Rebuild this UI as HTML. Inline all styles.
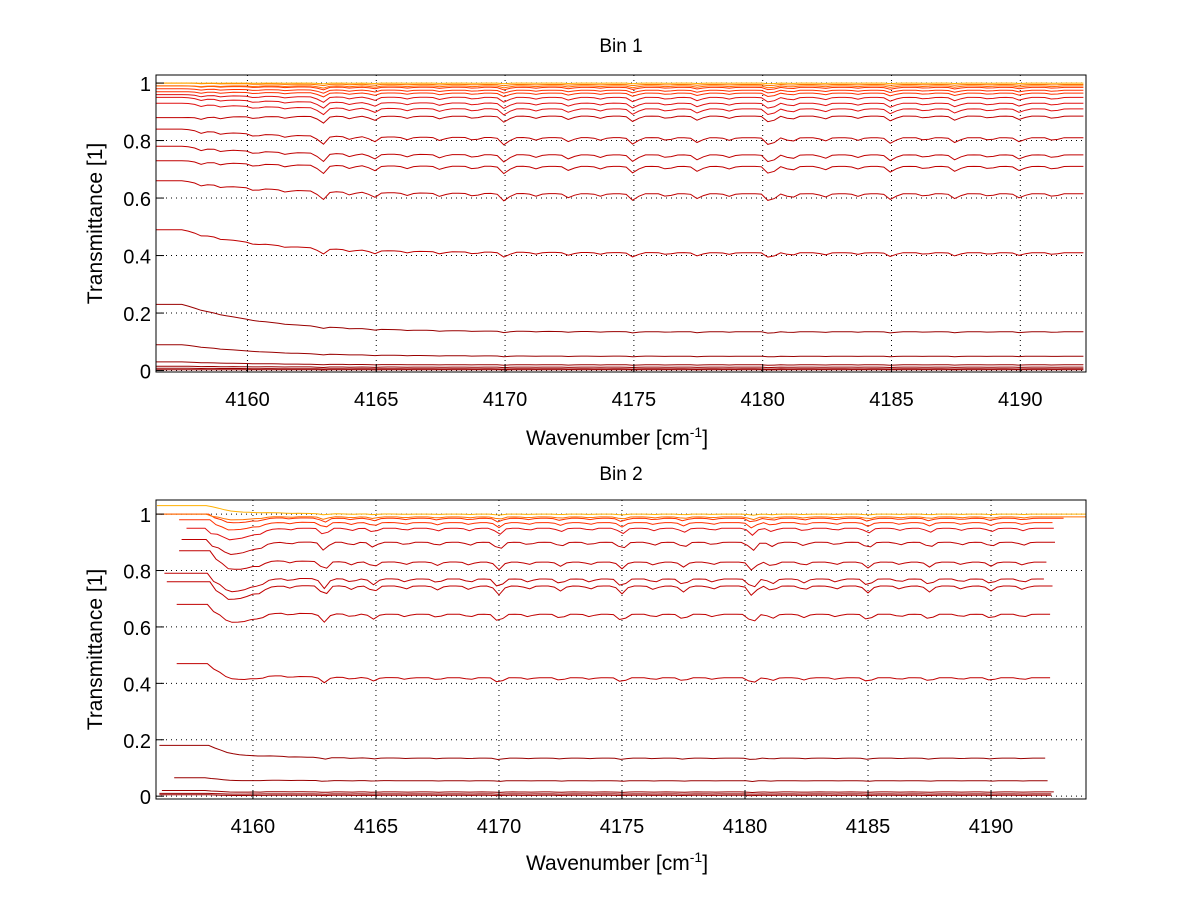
<!DOCTYPE html>
<html><head><meta charset="utf-8"><style>
body{margin:0;background:#fff;width:1200px;height:901px;overflow:hidden}
svg text{font-family:"Liberation Sans",sans-serif;fill:#000}
</style></head><body>
<svg id="c" width="1200" height="901" xmlns="http://www.w3.org/2000/svg"></svg>
<script>
// ---- data ----
const xTicks = [4160,4165,4170,4175,4180,4185,4190];
const yTicks = [0,0.2,0.4,0.6,0.8,1];
const yTickLabels = ["0","0.2","0.4","0.6","0.8","1"];
// absorption features (wavenumber, relative depth)
const dipCenters = [4158.2,4159.0,4160.3,4161.5,4162.9,4164.0,4164.9,4166.2,4167.5,4168.8,4170.0,4171.2,4172.5,4173.7,4175.0,4176.3,4177.5,4178.7,4180.3,4181.1,4182.4,4183.7,4185.0,4186.3,4187.5,4188.8,4190.0,4191.3];
const dipDepths  = [0.3,0.25,0.3,0.25,1.0,0.35,0.6,0.3,0.4,0.35,0.9,0.3,0.5,0.3,0.8,0.35,0.6,0.3,1.0,0.5,0.4,0.3,0.7,0.3,0.6,0.3,0.5,0.35];
// Bin 1 series: start level (left), end level (right)
const bin1Start = [1.0,1.0,0.99,0.99,0.98,0.97,0.96,0.95,0.93,0.88,0.84,0.78,0.73,0.66,0.49,0.23,0.09,0.03,0.015,0.008,0.003];
const bin1End   = [1.0,0.995,0.99,0.985,0.975,0.965,0.95,0.93,0.91,0.885,0.81,0.75,0.71,0.615,0.41,0.135,0.05,0.02,0.012,0.006,0.003];
const bin1Depth = [0.003,0.005,0.008,0.01,0.012,0.015,0.02,0.022,0.025,0.025,0.03,0.03,0.03,0.03,0.02,0.006,0.003,0.002,0.002,0.001,0.001];
// Bin 2 series
const bin2Start = [1.03,1.0,1.0,0.98,0.95,0.91,0.87,0.79,0.76,0.68,0.47,0.18,0.065,0.02,0.01,0.005];
const bin2End   = [1.0,0.99,0.985,0.97,0.95,0.9,0.83,0.77,0.745,0.645,0.42,0.135,0.055,0.015,0.008,0.003];
const bin2Depth = [0.004,0.01,0.015,0.02,0.025,0.03,0.03,0.035,0.035,0.03,0.02,0.006,0.003,0.002,0.001,0.001];
const bin2XEnd  = [4194,4194,4193,4192.6,4192.6,4192.6,4192.4,4192.2,4192.6,4192.6,4192.6,4192.2,4192.5,4192.6,4192.6,4192.6];
const bin2XStart= [4156.1,4156.1,4156.2,4157.0,4157.3,4157.1,4157.0,4156.4,4156.5,4156.9,4156.9,4156.2,4156.8,4156.3,4156.2,4156.2];
</script>
<script>
const svg=document.getElementById('c');
const NS='http://www.w3.org/2000/svg';
function mk(tag,attrs,parent){const e=document.createElementNS(NS,tag);for(const k in attrs)e.setAttribute(k,attrs[k]);(parent||svg).appendChild(e);return e;}
function dips(x){let s=0;for(let i=0;i<dipCenters.length;i++){const d=(x-dipCenters[i])/0.2;s+=dipDepths[i]*Math.exp(-d*d);}return s;}
function color(v){
  if(v>0.995) return '#ffb000';
  if(v>0.985) return '#ff7000';
  if(v>0.95) return '#ff3000';
  if(v>0.9) return '#e01010';
  if(v>0.3) return '#c00000';
  return '#990000';
}
function panel(cfg){
  const {L,R,T,B,x0,x1,y0,y1,title,titleY,xlabY,starts,ends,depths,xs,xe,brk,name,decay}=cfg;
  const g=mk('g',{});
  
  
  const X=v=>L+(v-x0)/(x1-x0)*(R-L);
  const Y=v=>B-(v-y0)/(y1-y0)*(B-T);
  xTicks.forEach(t=>{const l=mk('line',{x1:X(t),x2:X(t),y1:T,y2:B,stroke:'#000','stroke-width':1,'stroke-dasharray':'1,4'},g);
    });
  yTicks.forEach(t=>{const l=mk('line',{x1:L,x2:R,y1:Y(t),y2:Y(t),stroke:'#000','stroke-width':1,'stroke-dasharray':'1,4'},g);
    });
  for(let i=starts.length-1;i>=0;i--){
    const a=xs?xs[i]:x0, b=xe?xe[i]:x1;
    let pts=[];
    for(let x=a;x<=b+0.001;x+=0.25){
      let v;
      if(x<brk){v=starts[i];}
      else{
        const f=Math.exp(-(x-brk)/decay);
        v=ends[i]+(starts[i]-ends[i])*f-depths[i]*dips(x);
        if(name==='bin2-panel'&&x<4162){v-=depths[i]*1.5*Math.exp(-Math.pow((x-4159.3)/1.0,2));}
      }
      v=Math.max(y0,Math.min(y1,v));
      pts.push(X(x).toFixed(1)+','+Y(v).toFixed(1));
    }
    const p=mk('polyline',{points:pts.join(' '),fill:'none',stroke:color(ends[i]),'stroke-width':1},g);
    
    
  }
  const box=mk('rect',{x:L,y:T,width:R-L,height:B-T,fill:'none',stroke:'#000','stroke-width':1},g);
  
  xTicks.forEach(t=>{
    mk('line',{x1:X(t),x2:X(t),y1:B,y2:B-8,stroke:'#000'},g);
    const tx=mk('text',{x:X(t),y:B+34,'font-size':20,'text-anchor':'middle'},g);tx.textContent=t;
    
  });
  yTicks.forEach((t,i)=>{
    mk('line',{x1:L,x2:L+8,y1:Y(t),y2:Y(t),stroke:'#000'},g);
    const tx=mk('text',{x:L-5,y:Y(t)+8,'font-size':20,'text-anchor':'end'},g);tx.textContent=yTickLabels[i];
    
  });
  const tt=mk('text',{x:(L+R)/2,y:titleY,'font-size':19,'text-anchor':'middle'},g);tt.textContent=title;
  
  const xl=mk('text',{x:617,y:xlabY,'font-size':21,'text-anchor':'middle'},g);
  xl.innerHTML='Wavenumber [cm<tspan dy="-8" font-size="14">-1</tspan><tspan dy="8">]</tspan>';
  
  const cy=(T+B)/2;
  const yl=mk('text',{x:102,y:cy,'font-size':21,'text-anchor':'middle',transform:`rotate(-90 102 ${cy})`},g);yl.textContent='Transmittance [1]';
  
}
panel({name:'bin1-panel',L:156,R:1086,T:75,B:372,x0:4156.45,x1:4192.55,y0:-0.005,y1:1.028,title:'Bin 1',titleY:52,xlabY:445,
  starts:bin1Start,ends:bin1End,depths:bin1Depth,xs:null,xe:null,brk:4157.5,decay:3.2});
panel({name:'bin2-panel',L:156,R:1086,T:500,B:799,x0:4156.06,x1:4193.86,y0:-0.01,y1:1.05,title:'Bin 2',titleY:480,xlabY:870,
  starts:bin2Start,ends:bin2End,depths:bin2Depth,xs:bin2XStart,xe:bin2XEnd,brk:4158.3,decay:1.5});
</script>
</body></html>
